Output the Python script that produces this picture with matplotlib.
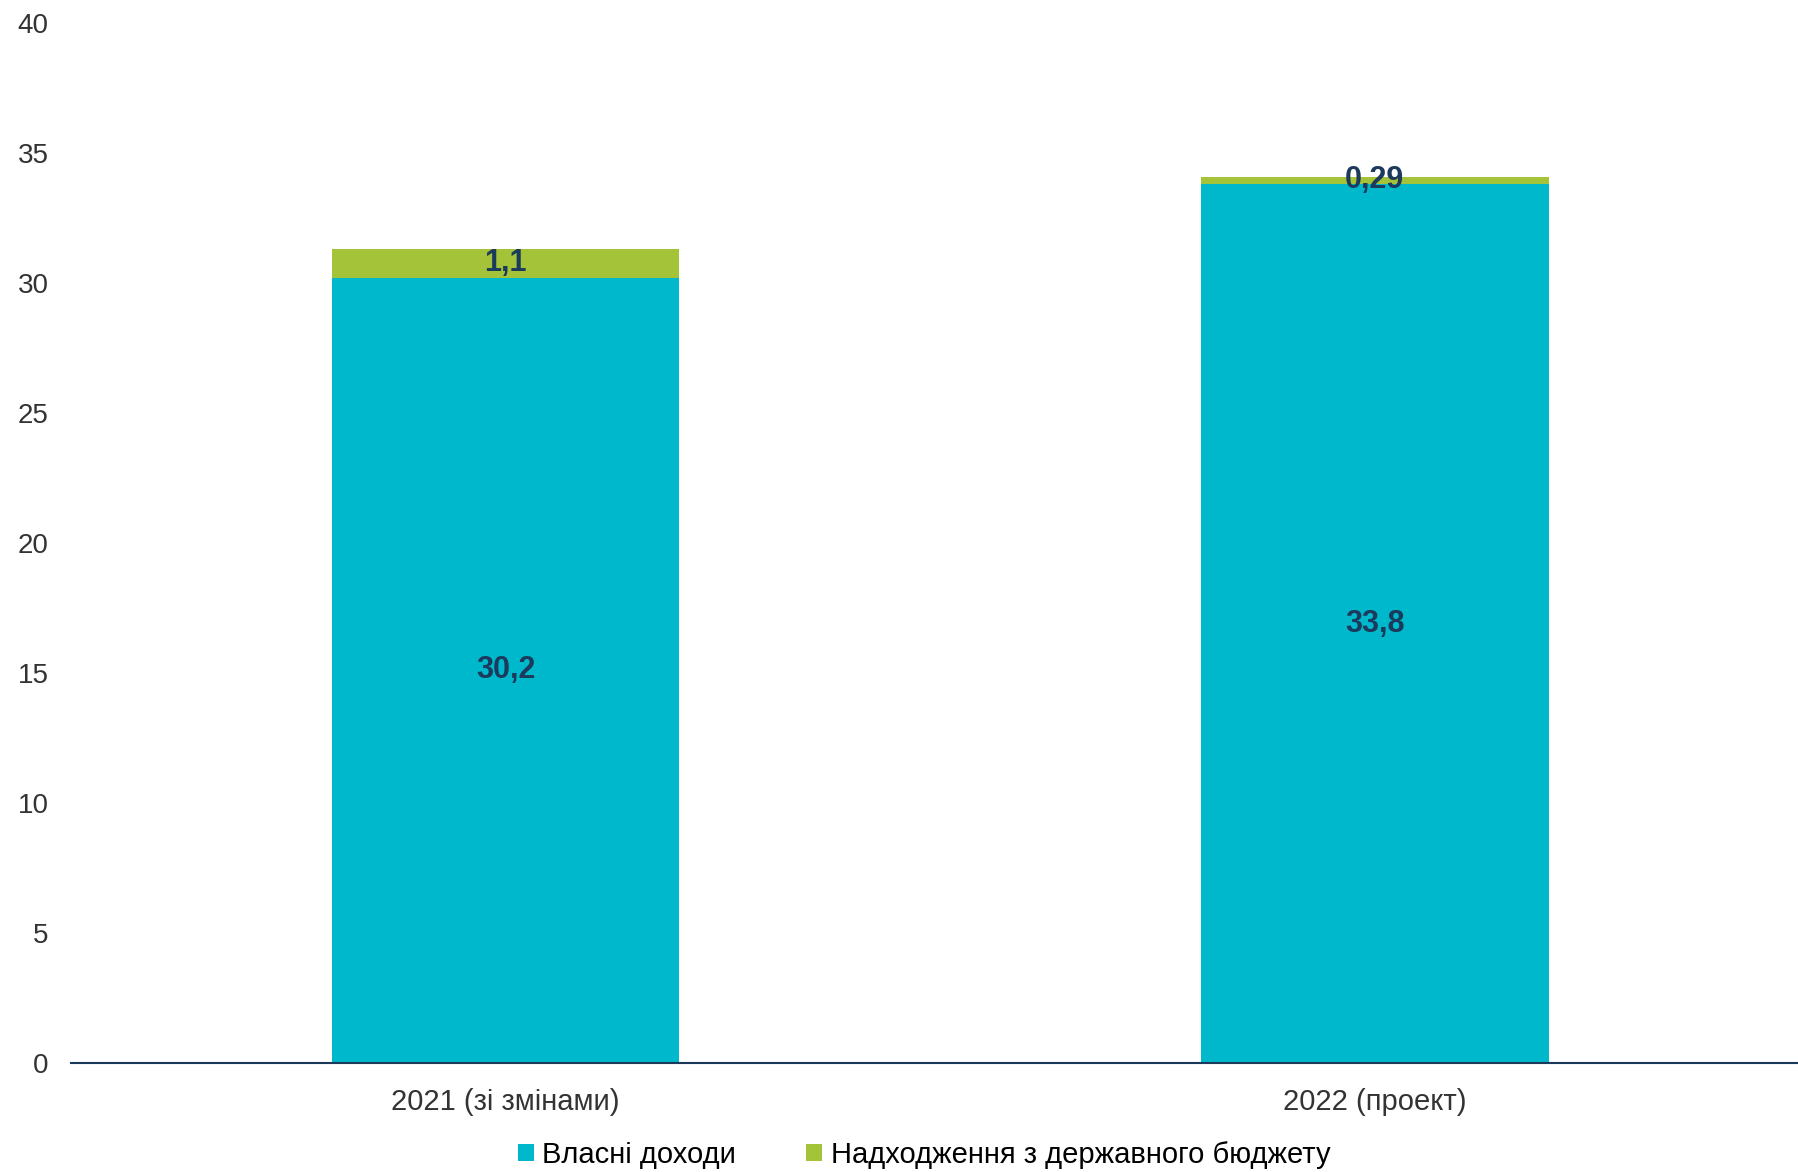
import numpy as np
import matplotlib
matplotlib.use("Agg")
import matplotlib.pyplot as plt

plt.rcParams['font.family'] = ['Liberation Sans', 'DejaVu Sans']

# Дані
categories = ["2021 (зі змінами)", "2022 (проект)"]
own_income = [30.2, 33.8]
state_budget = [1.1, 0.29]
own_labels = ["30,2", "33,8"]
state_labels = ["1,1", "0,29"]
series_names = ["Власні доходи", "Надходження з державного бюджету"]

teal = "#00B8CC"
green = "#A5C339"
navy = "#1B3A5C"

fig = plt.figure(figsize=(17.98, 11.72), dpi=100)
ax = fig.add_axes([0.0395, 0.093, 0.9605, 0.8874])

x = np.arange(len(categories))
b1 = ax.bar(x, own_income, width=0.4, color=teal, label=series_names[0])
b2 = ax.bar(x, state_budget, width=0.4, bottom=own_income, color=green, label=series_names[1])

ax.bar_label(b1, labels=own_labels, label_type="center", fontsize=22, fontweight="bold", color=navy)
ax.bar_label(b2, labels=state_labels, label_type="center", fontsize=22, fontweight="bold", color=navy)

ax.set_ylim(0, 40)
ax.set_xlim(-0.5, 1.487)
ax.set_yticks(np.arange(0, 41, 5))
ax.set_xticks(x)
ax.set_xticklabels(categories)
ax.tick_params(axis="both", length=0, colors="#333333")
ax.tick_params(axis="y", pad=16, labelsize=20)
ax.tick_params(axis="x", pad=18, labelsize=21)

for side in ["top", "right", "left"]:
    ax.spines[side].set_visible(False)
ax.spines["bottom"].set_color(navy)
ax.spines["bottom"].set_linewidth(1.5)

fig.legend(handles=[b1, b2], loc="center", bbox_to_anchor=(0.514, 0.0145), ncol=2,
           frameon=False, fontsize=21, handlelength=0.55, handleheight=0.55,
           handletextpad=0.3, columnspacing=2.4)

plt.savefig("out.png", dpi=100)
